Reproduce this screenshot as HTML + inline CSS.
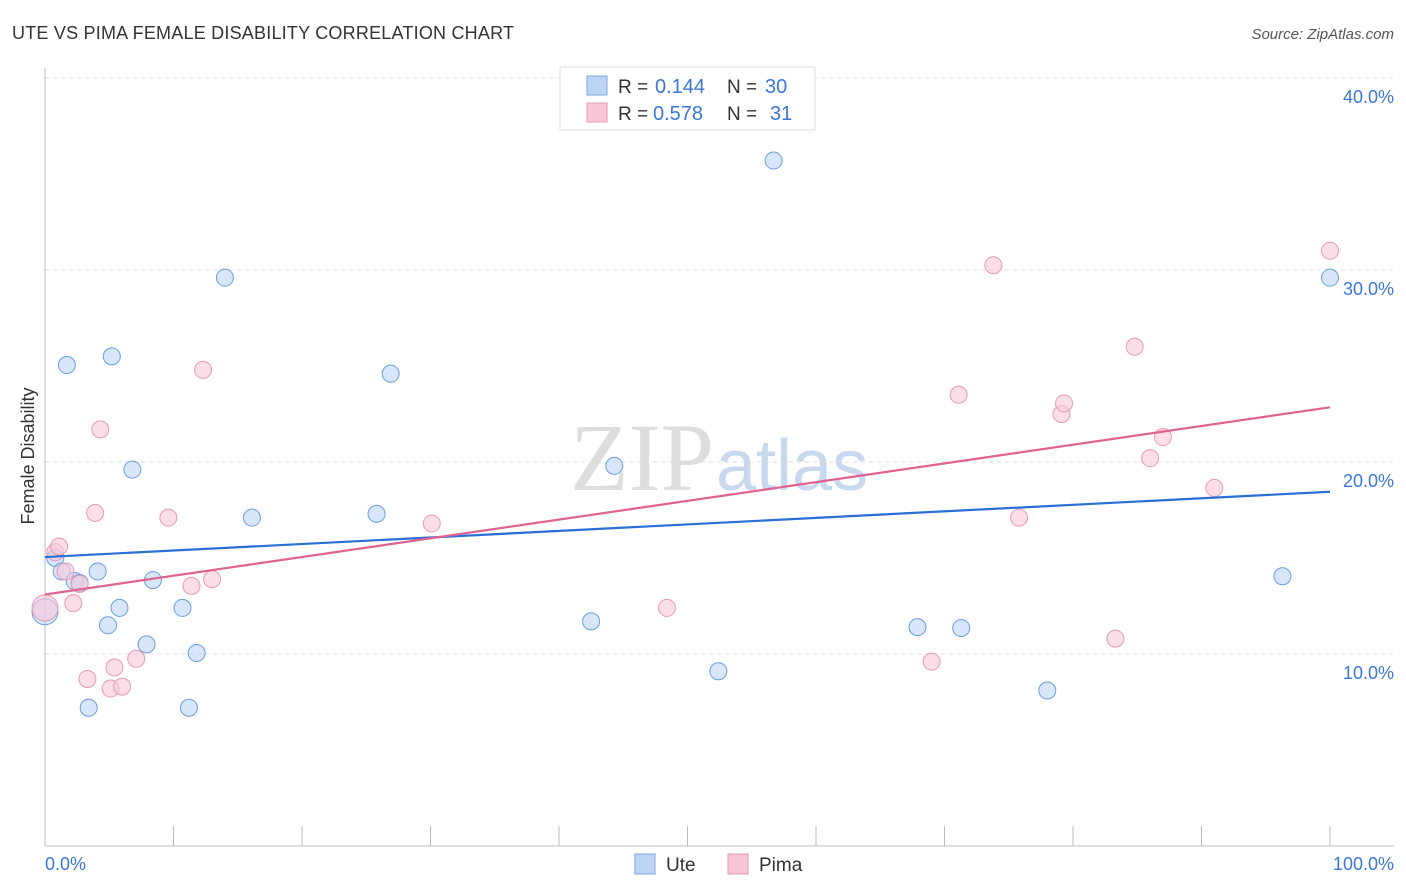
<!DOCTYPE html>
<html><head><meta charset="utf-8"><style>
body{margin:0;background:#fff;font-family:"Liberation Sans",sans-serif}
svg{display:block}
</style></head><body>
<svg id="chart" width="1406" height="892">
<text x="12" y="39" font-size="18" fill="#333" textLength="502">UTE VS PIMA FEMALE DISABILITY CORRELATION CHART</text>
<text x="1394" y="39" font-size="15" fill="#555" font-style="italic" text-anchor="end">Source: ZipAtlas.com</text>
<text x="714" y="490" font-size="96" fill="#ddd" text-anchor="end" font-family="Liberation Serif,serif">ZIP</text>
<text x="716" y="490" font-size="72" fill="#c8d8ee">atlas</text>
<g id="grid"></g>
<line x1="45" y1="68" x2="45" y2="846" stroke="#bbb"/>
<line x1="45" y1="846" x2="1394" y2="846" stroke="#bbb"/>
<g id="xticks"></g>
<text x="34" y="456" font-size="18" fill="#333" text-anchor="middle" transform="rotate(-90 34 456)">Female Disability</text>
<text x="45" y="870" font-size="18" fill="#3a78d8">0.0%</text>
<text x="1394" y="870" font-size="18" fill="#3a78d8" text-anchor="end">100.0%</text>
<g id="pts"></g>
<g id="lines"></g>
<g>
<rect x="560" y="67" width="255" height="63" fill="#fff" stroke="#ddd"/>
<rect x="587" y="76" width="20" height="19" fill="#bcd5f5" stroke="#7aa6e0"/>
<rect x="587" y="103" width="20" height="19" fill="#f9c8d8" stroke="#e69ab4"/>
<text x="618" y="93" font-size="19" fill="#333">R =</text>
<text x="655" y="93" font-size="20" fill="#3a78d8">0.144</text>
<text x="727" y="93" font-size="19" fill="#333">N =</text>
<text x="765" y="93" font-size="20" fill="#3a78d8">30</text>
<text x="618" y="120" font-size="19" fill="#333">R =</text>
<text x="653" y="120" font-size="20" fill="#3a78d8">0.578</text>
<text x="727" y="120" font-size="19" fill="#333">N =</text>
<text x="770" y="120" font-size="20" fill="#3a78d8">31</text>
</g>
<g>
<rect x="635" y="854" width="20" height="20" fill="#bcd5f5" stroke="#7aa6e0"/>
<text x="666" y="871" font-size="19" fill="#333">Ute</text>
<rect x="728" y="854" width="20" height="20" fill="#f9c8d8" stroke="#e69ab4"/>
<text x="759" y="871" font-size="19" fill="#333">Pima</text>
</g>
</svg>
<script>
const yTicks=[10,20,30,40];
const xTickVals=[0,10,20,30,40,50,60,70,80,90,100];
const uteX=[0,0.8,1.3,1.7,2.3,2.7,3.4,4.1,4.9,5.2,5.8,6.8,7.9,8.4,10.7,11.2,11.8,14.0,16.1,25.8,26.9,42.5,44.3,52.4,56.7,67.9,71.3,78.0,96.3,100];
const uteY=[12.2,15.0,14.3,25.05,13.8,13.7,7.2,14.3,11.5,25.5,12.4,19.6,10.5,13.85,12.4,7.2,10.05,29.6,17.1,17.3,24.6,11.7,19.8,9.1,35.7,11.4,11.35,8.1,14.05,29.6];
const pimaX=[0,0.8,1.1,1.6,2.2,2.7,3.3,3.9,4.3,5.1,5.4,6.0,7.1,9.6,11.4,12.3,13.0,30.1,48.4,69.0,71.1,73.8,75.8,79.1,79.3,83.3,84.8,86.0,87.0,91.0,100];
const pimaY=[12.4,15.3,15.6,14.3,12.65,13.65,8.7,17.35,21.7,8.2,9.3,8.3,9.75,17.1,13.55,24.8,13.9,16.8,12.4,9.6,23.5,30.25,17.1,22.5,23.05,10.8,26.0,20.2,21.3,18.65,31.0];
const uteLine=[15.05,18.45];
const pimaLine=[13.1,22.85];
const X=v=>45+v*12.85, Y=v=>846-v*19.2;
const NS="http://www.w3.org/2000/svg";
function mk(t,a,p){const e=document.createElementNS(NS,t);for(const k in a)e.setAttribute(k,a[k]);p.appendChild(e);return e;}
const g=document.getElementById('grid');
yTicks.forEach(t=>{
 const l=mk('line',{x1:45,x2:1394,y1:Y(t),y2:Y(t),stroke:'#ddd','stroke-dasharray':'4,4'},g);
 
 
 const tx=mk('text',{x:1394,y:Y(t)+25,'font-size':18,fill:'#3a78d8','text-anchor':'end'},g);
 tx.textContent=t.toFixed(1)+'%';
 
 
});
const xt=document.getElementById('xticks');
xTickVals.forEach(v=>{
 const l=mk('line',{x1:X(v),x2:X(v),y1:826,y2:846,stroke:'#bbb'},xt);
 
 
});
const p=document.getElementById('pts');
function dots(xs,ys,fill,stroke,name){xs.forEach((x,i)=>{
 const c=mk('circle',{cx:X(x),cy:Y(ys[i]),r:(x===0?13:8.5),fill:fill,'fill-opacity':0.6,stroke:stroke,'stroke-width':1},p);
 
 
});}
dots(uteX,uteY,'#bcd5f5','#6a9ee0','ute-point');
dots(pimaX,pimaY,'#f9c8d8','#e69ab4','pima-point');
const L=document.getElementById('lines');
const bl=mk('line',{x1:X(0),y1:Y(uteLine[0]),x2:X(100),y2:Y(uteLine[1]),stroke:'#2a6fd6','stroke-width':2.2},L);


const pl=mk('line',{x1:X(0),y1:Y(pimaLine[0]),x2:X(100),y2:Y(pimaLine[1]),stroke:'#e0638f','stroke-width':2.2},L);


</script>
</body></html>
